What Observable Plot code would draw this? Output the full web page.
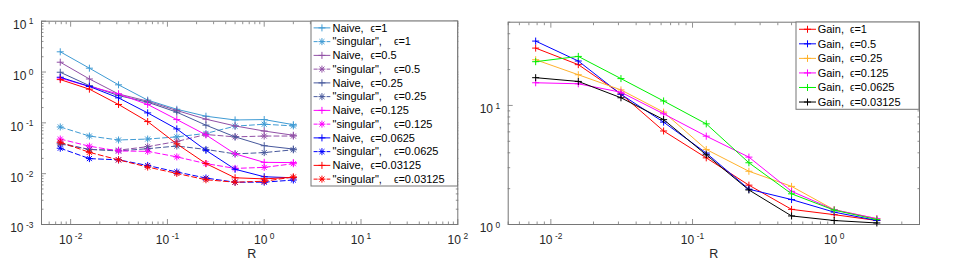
<!DOCTYPE html>
<html><head><meta charset="utf-8">
<script src="https://cdn.jsdelivr.net/npm/d3@7"></script>
<script src="https://cdn.jsdelivr.net/npm/@observablehq/plot@0.6"></script>
<style>
html,body{margin:0;padding:0;background:#fff;}
#root{position:relative;width:980px;height:276px;overflow:hidden;font-family:"Liberation Sans",Arial,Helvetica,sans-serif;}
#root svg{position:absolute;top:0;}
</style></head><body><div id="root"></div>
<script>
// ---------- data ----------
const R = [0.0078125, 0.015625, 0.03125, 0.0625, 0.125, 0.25, 0.5, 1, 2];
const epsilons = ["1", "0.5", "0.25", "0.125", "0.0625", "0.03125"];

const naive_1       = [2.5, 1.19, 0.56, 0.28, 0.185, 0.135, 0.114, 0.116, 0.092];
const singular_1    = [0.083, 0.055, 0.046, 0.048, 0.053, 0.062, 0.086, 0.094, 0.087];
const naive_05      = [1.56, 0.73, 0.37, 0.267, 0.175, 0.118, 0.087, 0.069, 0.057];
const singular_05   = [0.040, 0.030, 0.029, 0.034, 0.043, 0.059, 0.053, 0.055, 0.055];
const naive_025     = [0.99, 0.54, 0.344, 0.255, 0.162, 0.090, 0.053, 0.0355, 0.0305];
const singular_025  = [0.0385, 0.030, 0.028, 0.031, 0.035, 0.030, 0.0245, 0.026, 0.0295];
const naive_0125    = [0.76, 0.52, 0.37, 0.23, 0.116, 0.058, 0.0245, 0.0167, 0.0165];
const singular_0125 = [0.048, 0.0347, 0.028, 0.0275, 0.0214, 0.0158, 0.0127, 0.0133, 0.0157];
const naive_00625   = [0.79, 0.52, 0.31, 0.157, 0.076, 0.0288, 0.0122, 0.0087, 0.0083];
const singular_00625= [0.0317, 0.0198, 0.0187, 0.0145, 0.0108, 0.0082, 0.0068, 0.0068, 0.0075];
const naive_003125  = [0.71, 0.46, 0.23, 0.106, 0.0385, 0.0158, 0.0083, 0.0079, 0.0085];
const singular_003125=[0.0416, 0.0263, 0.0187, 0.0135, 0.0101, 0.0076, 0.0068, 0.0071, 0.0086];

const gain_1       = [30.3, 22.0, 12.5, 6.1, 3.63, 2.14, 1.34, 1.21, 1.08];
const gain_05      = [34.7, 23.6, 12.4, 7.24, 3.98, 1.98, 1.62, 1.27, 1.08];
const gain_025     = [24.2, 18.1, 13.5, 8.79, 4.27, 2.80, 2.09, 1.33, 1.12];
const gain_0125    = [15.5, 15.2, 12.9, 8.5, 5.52, 3.68, 1.90, 1.33, 1.12];
const gain_00625   = [23.3, 25.8, 16.8, 10.9, 7.0, 3.30, 1.81, 1.32, 1.10];
const gain_003125  = [17.1, 15.9, 11.6, 7.6, 3.85, 1.95, 1.18, 1.08, 1.03];

const leftNaive    = [naive_1, naive_05, naive_025, naive_0125, naive_00625, naive_003125];
const leftSingular = [singular_1, singular_05, singular_025, singular_0125, singular_00625, singular_003125];
const rightGain    = [gain_1, gain_05, gain_025, gain_0125, gain_00625, gain_003125];

const leftColors  = ["#3f9bd4", "#9150a6", "#47589c", "#ff00ff", "#0000ff", "#ff0000"];
const rightColors = ["#ff0000", "#0000ff", "#ffb22c", "#ff00ff", "#00f000", "#000000"];

const leftXTicks  = [0.01, 0.1, 1, 10, 100];
const leftYTicks  = [0.001, 0.01, 0.1, 1, 10];
const rightXTicks = [0.01, 0.1, 1];
const rightYTicks = [1, 10];
const xLabel = "R";

// ---------- helpers ----------
const FONT = '"Liberation Sans", Arial, Helvetica, sans-serif';
const AX = "#767676";
const TXT = "#262626";

function minorTicks([lo, hi]) {
  const out = [];
  for (let k = -4; k <= 3; k++) for (let m = 2; m <= 9; m++) {
    const v = +(m * Math.pow(10, k)).toPrecision(6);
    if (v >= lo * 0.9999 && v <= hi * 1.0001) out.push(v);
  }
  return out;
}
const fmt = v => "10^" + Math.round(Math.log10(v));

function axesMarks(xDom, yDom, xMaj, yMaj, xDx) {
  const xMin = minorTicks(xDom), yMin = minorTicks(yDom);
  const c = {stroke: AX, fill: "none", label: null, strokeWidth: 0.8};
  return [
    Plot.axisX({anchor: "bottom", ticks: xMaj, tickSize: -5, ...c}),
    Plot.axisX({anchor: "bottom", ticks: xMin, tickSize: -2.5, ...c}),
    Plot.axisX({anchor: "top", ticks: xMaj, tickSize: -5, ...c}),
    Plot.axisX({anchor: "top", ticks: xMin, tickSize: -2.5, ...c}),
    Plot.axisY({anchor: "left", ticks: yMaj, tickSize: -5, ...c}),
    Plot.axisY({anchor: "left", ticks: yMin, tickSize: -2.5, ...c}),
    Plot.axisY({anchor: "right", ticks: yMaj, tickSize: -5, ...c}),
    Plot.axisY({anchor: "right", ticks: yMin, tickSize: -2.5, ...c}),
    Plot.axisX({anchor: "bottom", ticks: xMaj, tickSize: 0, stroke: "none", fill: TXT, tickPadding: 11, tickFormat: fmt, label: null, fontSize: 12}),
    Plot.axisY({anchor: "left", ticks: yMaj, tickSize: 0, stroke: "none", fill: TXT, tickPadding: 8, tickFormat: fmt, label: null, fontSize: 12, dy: 4}),
    Plot.text([xLabel], {frameAnchor: "bottom", dy: 33.5, dx: xDx, fontSize: 12.5, fill: TXT}),
    Plot.frame({stroke: AX, strokeWidth: 1})
  ];
}

const rows = vals => R.map((r, i) => ({R: r, v: vals[i]}));

function seriesMarks(vals, color, dashed, star) {
  const d = rows(vals);
  const m = [
    Plot.line(d, {x: "R", y: "v", stroke: color, strokeWidth: 1, strokeDasharray: dashed ? "5,3" : null}),
    Plot.dot(d, {x: "R", y: "v", symbol: "plus", r: 2.4, stroke: color, fill: "none", strokeWidth: 1})
  ];
  if (star) m.push(Plot.dot(d, {x: "R", y: "v", symbol: "times", r: 2.4, stroke: color, fill: "none", strokeWidth: 1}));
  return m;
}

function supify(svg) {
  d3.select(svg).selectAll("text").each(function () {
    const m = /^10\^(-?\d+)$/.exec(this.textContent);
    if (!m) return;
    const t = d3.select(this);
    t.text(null);
    t.append("tspan").text("10");
    t.append("tspan").attr("dx", 2.5).attr("dy", "-0.55em").attr("font-size", "0.7em").text(m[1]);
  });
}

const root = document.getElementById("root");

// ---------- left panel ----------
const leftXDom = [0.005, 100], leftYDom = [0.001, 10];
const leftMarks = [];
for (let i = 0; i < 6; i++) {
  leftMarks.push(...seriesMarks(leftNaive[i], leftColors[i], false, false));
  leftMarks.push(...seriesMarks(leftSingular[i], leftColors[i], true, true));
}
const left = Plot.plot({
  width: 490, height: 276,
  marginLeft: 41, marginRight: 32.7, marginTop: 20.7, marginBottom: 52,
  x: {type: "log", domain: leftXDom},
  y: {type: "log", domain: leftYDom},
  style: {fontFamily: FONT, fontSize: "12px", color: TXT, background: "transparent", overflow: "visible"},
  marks: [...axesMarks(leftXDom, leftYDom, leftXTicks, leftYTicks, 2), ...leftMarks]
});
left.style.left = "0px";
supify(left);
root.appendChild(left);

// ---------- right panel ----------
const rightXDom = [0.005, 4], rightYDom = [1, 50];
const rightMarks = [];
for (let i = 0; i < 6; i++) rightMarks.push(...seriesMarks(rightGain[i], rightColors[i], false, false));
const right = Plot.plot({
  width: 510, height: 276,
  marginLeft: 37.7, marginRight: 61, marginTop: 21.7, marginBottom: 52,
  x: {type: "log", domain: rightXDom},
  y: {type: "log", domain: rightYDom},
  style: {fontFamily: FONT, fontSize: "12px", color: TXT, background: "transparent", overflow: "visible"},
  marks: [...axesMarks(rightXDom, rightYDom, rightXTicks, rightYTicks, 0), ...rightMarks]
});
right.style.left = "470px";
supify(right);
root.appendChild(right);

// ---------- legends ----------
function legend(box, entries, o) {
  const svg = d3.select(root).append("svg")
    .attr("width", box.w + 2).attr("height", box.h + 2)
    .style("left", (box.x - 1) + "px").style("top", (box.y - 1) + "px")
    .attr("font-family", FONT);
  const g = svg.append("g").attr("transform", "translate(1,1)");
  g.append("rect").attr("x", 0).attr("y", 0).attr("width", box.w).attr("height", box.h)
    .attr("fill", "#fff").attr("stroke", AX).attr("stroke-width", 1);
  const rowH = box.h / entries.length;
  entries.forEach((e, i) => {
    const cy = rowH * (i + 0.5);
    g.append("line").attr("x1", o.l0).attr("x2", o.l1).attr("y1", cy).attr("y2", cy)
      .attr("stroke", e.color).attr("stroke-width", 1).attr("stroke-dasharray", e.dashed ? "4,2.5" : null);
    const mx = (o.l0 + o.l1) / 2;
    const types = e.star ? [d3.symbolPlus, d3.symbolTimes] : [d3.symbolPlus];
    types.forEach(t => g.append("path").attr("d", d3.symbol(t, 18)())
      .attr("transform", `translate(${mx},${cy})`).attr("fill", "none").attr("stroke", e.color).attr("stroke-width", 1));
    const tx = g.append("text").attr("x", o.tx).attr("y", cy).attr("dy", "0.35em")
      .attr("font-size", 11).attr("fill", "#000").style("white-space", "pre");
    tx.append("tspan").text(e.label);
    tx.append("tspan").attr("x", e.star ? o.ex2 : o.ex).text("ϵ").attr("font-size", 10);
    tx.append("tspan").text("=" + e.eps);
  });
}

const leftEntries = [];
epsilons.forEach((eps, i) => {
  leftEntries.push({label: "Naive,", eps, color: leftColors[i], dashed: false, star: false});
  leftEntries.push({label: "\"singular\",", eps, color: leftColors[i], dashed: true, star: true});
});
legend({x: 310.7, y: 20.7, w: 146.6, h: 165}, leftEntries, {l0: 2.6, l1: 19.3, tx: 21.5, ex: 59.5, ex2: 83});

const rightEntries = epsilons.map((eps, i) => ({label: "Gain,", eps, color: rightColors[i], dashed: false, star: false}));
legend({x: 796, y: 21.7, w: 123, h: 87.3}, rightEntries, {l0: 3, l1: 20, tx: 21.7, ex: 54, ex2: 54});
</script></body></html>
